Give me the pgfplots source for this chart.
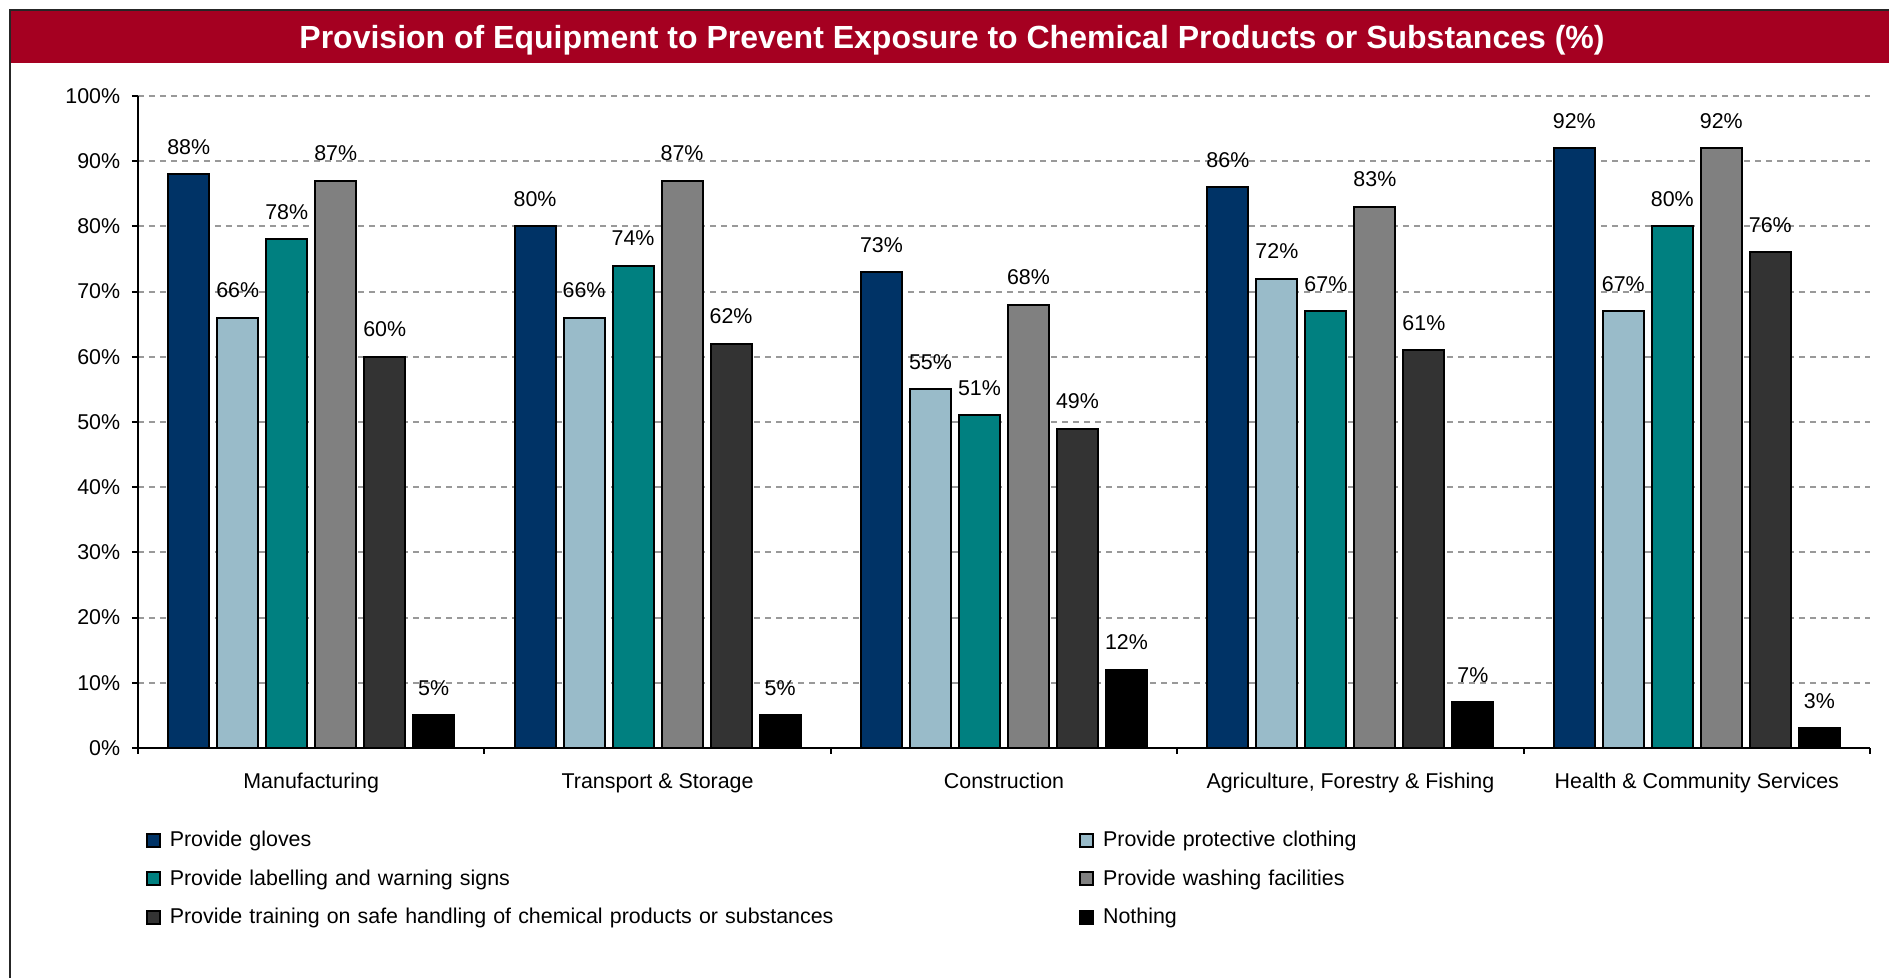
\documentclass[border=0pt]{standalone}
\usepackage{pgfplots}
\pgfplotsset{compat=1.18}
\usepackage{pgfplotstable}
\usepackage{fontspec}
\setmainfont{Liberation Sans}

\definecolor{bandred}{HTML}{A50021}
\definecolor{cGloves}{HTML}{003366}
\definecolor{cCloth}{HTML}{99BBC9}
\definecolor{cLabel}{HTML}{008080}
\definecolor{cWash}{HTML}{808080}
\definecolor{cTrain}{HTML}{333333}
\definecolor{cNone}{HTML}{000000}
\definecolor{gridgray}{HTML}{999999}

% share of workplaces (%) by sector
\pgfplotstableread{
x gloves clothing labelling washing training nothing
0 88 66 78 87 60 5
1 80 66 74 87 62 5
2 73 55 51 68 49 12
3 86 72 67 83 61 7
4 92 67 80 92 76 3
}\datatable

\begin{document}%
\fontsize{10.7}{12.8}\selectfont%
\begin{tikzpicture}[font=\fontsize{10.7}{12.8}\selectfont]
\useasboundingbox (-69pt,-115pt) rectangle (875.5pt,374pt);
\fill[white] (-69pt,-115pt) rectangle (875.5pt,374pt);
% header band and frame
\fill[bandred] (-64pt,342.5pt) rectangle (875.5pt,368.5pt);
\draw[line width=1pt, draw=black!85] (-64pt,-115pt) -- (-64pt,369pt) -- (875.5pt,369pt);
\node[anchor=base, text=white, font=\bfseries\fontsize{16}{19}\selectfont]
  at (407pt,349.85pt) {Provision of Equipment to Prevent Exposure to Chemical Products or Substances (\%)};

\begin{axis}[
  at={(0pt,0pt)}, anchor=south west,
  scale only axis, width=866pt, height=326pt,
  xmin=-0.5, xmax=4.5, ymin=0, ymax=100,
  clip=false,
  ybar=4pt, bar width=20.5pt,
  every axis plot/.append style={draw=black, line width=1pt},
  axis x line*=bottom, axis y line*=left,
  axis line style={line width=1pt, black},
  tick align=outside,
  major tick length=3pt,
  minor tick length=3pt,
  xtick={0,1,2,3,4},
  xticklabels={Manufacturing, Transport \& Storage, Construction, {Agriculture, Forestry \& Fishing}, Health \& Community Services},
  major x tick style={draw=none},
  minor xtick={-0.5,0.5,1.5,2.5,3.5,4.5},
  minor x tick style={line width=1pt, black},
  xticklabel style={anchor=base, inner sep=0pt, yshift=-17.5pt},
  ytick={0,10,...,100},
  yticklabels={0\%,10\%,20\%,30\%,40\%,50\%,60\%,70\%,80\%,90\%,100\%},
  ytick style={line width=1pt, black},
  yticklabel style={anchor=east, inner sep=0pt, xshift=-5.75pt},
  ymajorgrids,
  major grid style={gridgray, line width=1pt, dash pattern=on 3pt off 2.5pt},
  nodes near coords={\pgfmathprintnumber[assume math mode=true]{\pgfplotspointmeta}\%},
  nodes near coords style={anchor=base, inner sep=0pt, yshift=10pt, text=black},
  legend columns=2,
  legend cell align=left,
  legend image code/.code={\draw[#1, line width=1pt, draw=black] (0pt,-3.2pt) rectangle (6.4pt,3.2pt);},
  legend style={at={(0.00462,-0.12684)}, anchor=north west, draw=none, fill=none,
    inner sep=0pt, outer sep=0pt, row sep=9.6pt,
    nodes={inner sep=0pt},
    /tikz/every odd column/.append style={column sep=4.5pt},
    /tikz/every even column/.append style={text width=454.75pt, text height=8pt, text depth=2.5pt}},
]
\addplot[fill=cGloves] table[x=x, y=gloves]    {\datatable};
\addplot[fill=cCloth]  table[x=x, y=clothing]  {\datatable};
\addplot[fill=cLabel]  table[x=x, y=labelling] {\datatable};
\addplot[fill=cWash]   table[x=x, y=washing]   {\datatable};
\addplot[fill=cTrain]  table[x=x, y=training]  {\datatable};
\addplot[fill=cNone]   table[x=x, y=nothing]   {\datatable};
\legend{Provide gloves, Provide protective clothing, Provide labelling and warning signs, Provide washing facilities, Provide training on safe handling of chemical products or substances, Nothing}
\end{axis}
\end{tikzpicture}%
\end{document}
